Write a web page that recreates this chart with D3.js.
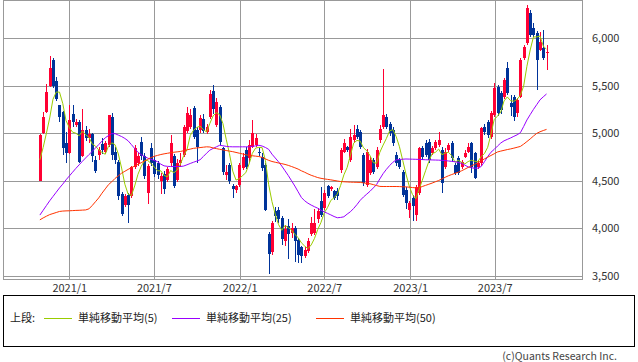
<!DOCTYPE html>
<html><head><meta charset="utf-8">
<script src="https://cdn.jsdelivr.net/npm/d3@7/dist/d3.min.js"></script>
<style>
body{margin:0;background:#fff;}
svg text{font-family:"Noto Sans CJK JP","Noto Sans",sans-serif;}
</style></head>
<body><svg id="c" width="638" height="362"></svg>
<script>
const startWeek = "2020-10-30";
const open = [4500,4997,5222,5500,5770,5552,5292,5222,4893,4789,5205,5090,5118,4761,5030,4950,4990,4720,4770,4890,4806,4876,5170,4806,4702,4360,4250,4350,4340,4640,4690,4910,4760,4375,4840,4720,4690,4500,4570,4510,4690,4760,4510,4690,4770,5020,5070,5260,5030,5035,5150,5014,5170,5448,5083,5274,4840,4563,4667,4448,4407,4459,4632,4823,4736,4858,4875,4800,4754,4667,3938,3747,4180,4198,4112,3869,4025,3950,4000,3880,3800,3713,3765,3938,3955,4094,4285,4216,4441,4410,4389,4390,4615,4806,4858,4719,4927,5049,5014,4771,4459,4580,4719,4650,4927,5066,5170,5100,5031,4771,4719,4597,4407,4198,4320,4146,4372,4840,4899,4910,4788,4840,4875,4823,4650,4823,4892,4667,4736,4649,4754,4807,4894,4789,4649,4684,5069,5122,4964,5192,5489,5419,5384,5682,5314,5384,5209,5384,5787,5944,6259,6102,6049,5874,5892,5839];
const high = [4990,5222,5517,5812,5790,5587,5300,5230,5014,5300,5292,5150,5140,5257,5080,5040,5000,4760,4850,4950,4920,5188,5210,4850,4720,4380,4360,4370,4660,4880,4790,4960,4790,4680,4900,4760,4710,4580,4600,4650,4980,4780,4730,4790,5090,5280,5250,5290,5060,5190,5200,5100,5455,5510,5370,5300,4860,4667,4690,4470,4460,4690,4790,4860,4930,5140,4990,4840,4790,4690,3960,4080,4230,4230,4130,4040,4100,4060,4030,3900,3820,3800,3900,4120,4200,4216,4440,4400,4460,4450,4400,4420,4840,4935,4870,5049,5083,5083,5030,4790,4830,4750,4740,4850,5083,5674,5200,5120,5060,4800,4740,4610,4430,4290,4350,4460,4860,4870,4930,4940,4870,4930,5014,4860,4840,4900,4920,4690,4760,4720,4820,4894,4910,4800,4720,5070,5100,5139,5230,5524,5510,5440,5580,5752,5400,5400,5370,5790,5930,6347,6290,6154,6070,6067,6084,5927];
const low = [4495,4990,5210,5490,5470,5340,5118,4772,4685,4780,5066,5070,4690,4750,4920,4900,4700,4580,4720,4780,4780,4860,4720,4680,4300,4130,4230,4060,4320,4620,4660,4720,4520,4254,4660,4540,4520,4360,4360,4490,4660,4420,4490,4650,4750,5000,5040,4940,4690,5000,5000,4990,5150,5200,5060,4875,4560,4511,4470,4320,4370,4440,4610,4620,4700,4840,4850,4760,4600,4180,3522,3720,4070,4060,3830,3820,3680,3900,3650,3640,3640,3690,3740,3920,3930,4060,4120,4190,4320,4390,4300,4300,4580,4790,4800,4700,4900,4940,4830,4450,4440,4560,4570,4620,4900,5040,5040,4970,4870,4660,4620,4330,4200,4110,4080,4080,4350,4720,4750,4690,4770,4820,4850,4370,4620,4800,4700,4560,4560,4620,4740,4790,4579,4520,4620,4660,4980,4947,4940,5170,5180,5200,5360,5400,5180,5130,5170,5370,5770,5930,6010,6010,5454,5860,5770,5664];
const close = [4980,5170,5438,5690,5500,5361,5170,4841,4789,5136,5118,5118,4702,5032,4950,4990,4760,4600,4820,4820,4893,5188,4772,4720,4338,4150,4340,4250,4650,4840,4760,4760,4550,4653,4690,4570,4560,4550,4410,4620,4900,4445,4690,4720,5070,5210,5190,4965,4860,5156,5020,5066,5413,5257,5326,4910,4597,4597,4493,4414,4441,4667,4754,4650,4875,4997,4945,4790,4632,4198,3730,4060,4130,4094,3886,3990,3940,4000,3870,3720,3713,3770,3869,4060,4060,4181,4146,4372,4337,4435,4320,4340,4823,4892,4823,4962,4979,4962,4858,4476,4806,4719,4597,4823,5049,5187,5066,4997,4892,4684,4650,4355,4268,4268,4233,4434,4840,4754,4771,4719,4840,4910,4927,4476,4806,4875,4736,4580,4580,4702,4789,4859,4649,4527,4684,5052,5017,4982,5209,5472,5209,5244,5559,5419,5279,5174,5349,5769,5909,6312,6032,6032,5769,5962,5787,5857];
const ma5 = [4720,4850,5000,5160,5356,5432,5432,5312,5132,5059,5011,5000,4973,5021,4984,4958,4887,4866,4824,4798,4779,4864,4899,4879,4782,4634,4464,4360,4346,4446,4568,4652,4712,4713,4683,4645,4605,4605,4556,4542,4608,4585,4613,4675,4765,4827,4976,5031,5059,5076,5038,5013,5103,5182,5216,5194,5101,4937,4785,4602,4508,4522,4554,4585,4677,4789,4844,4851,4848,4712,4459,4282,4150,4042,3980,4032,4008,3982,3937,3904,3849,3815,3788,3826,3894,3988,4063,4164,4219,4294,4322,4361,4451,4562,4640,4768,4896,4924,4917,4847,4816,4764,4691,4684,4799,4875,4944,5024,5038,4965,4858,4716,4570,4445,4355,4312,4409,4506,4606,4704,4785,4799,4833,4774,4792,4799,4764,4695,4715,4695,4677,4702,4716,4705,4702,4754,4786,4852,4989,5146,5178,5223,5339,5381,5342,5335,5356,5398,5496,5703,5874,6011,6011,6021,5916,5881];
const ma25 = [4140,4190,4240,4290,4335,4380,4425,4465,4510,4550,4590,4630,4667,4705,4740,4775,4808,4845,4880,4917,4952,4975,4995,4995,4980,4965,4945,4920,4880,4840,4800,4775,4755,4738,4725,4715,4700,4675,4657,4652,4650,4650,4650,4650,4655,4668,4682,4695,4707,4721,4755,4790,4822,4840,4857,4873,4868,4862,4858,4857,4857,4857,4857,4857,4857,4861,4867,4873,4865,4850,4830,4780,4740,4700,4655,4605,4555,4500,4445,4385,4325,4290,4265,4245,4228,4212,4192,4173,4158,4142,4125,4112,4115,4122,4150,4175,4210,4250,4295,4330,4360,4390,4425,4460,4520,4575,4620,4660,4695,4720,4724,4727,4729,4728,4727,4726,4725,4723,4721,4720,4719,4718,4717,4715,4712,4708,4704,4700,4692,4684,4665,4646,4637,4632,4633,4650,4700,4754,4800,4830,4865,4897,4920,4935,4950,4967,4983,5005,5070,5139,5195,5250,5300,5350,5382,5412];
const ma50 = [4090,4110,4128,4145,4156,4167,4178,4182,4184,4185,4187,4189,4190,4192,4194,4205,4240,4280,4320,4370,4415,4460,4490,4525,4553,4580,4600,4620,4638,4655,4673,4690,4708,4726,4744,4757,4767,4776,4783,4789,4795,4800,4804,4808,4816,4825,4833,4841,4845,4849,4853,4857,4855,4845,4838,4831,4825,4818,4812,4806,4798,4790,4782,4773,4767,4763,4759,4755,4745,4730,4715,4703,4695,4687,4680,4672,4662,4650,4637,4623,4605,4590,4573,4558,4546,4534,4526,4520,4515,4510,4504,4498,4492,4490,4488,4486,4485,4484,4483,4478,4473,4469,4460,4450,4441,4440,4440,4440,4440,4440,4439,4437,4436,4433,4429,4426,4426,4440,4452,4464,4476,4490,4503,4520,4537,4553,4566,4578,4590,4605,4622,4640,4656,4673,4690,4710,4730,4748,4766,4784,4803,4812,4820,4828,4835,4843,4852,4861,4885,4912,4940,4970,4998,5015,5028,5040];
const yTicks = [3500,4000,4500,5000,5500,6000];
const xTickDates = ["2021-01-01","2021-07-01","2022-01-01","2022-07-01","2023-01-01","2023-07-01"];
const xTickLabels = ["2021/1","2021/7","2022/1","2022/7","2023/1","2023/7"];
const legendLabels = ["単純移動平均(5)","単純移動平均(25)","単純移動平均(50)"];
const legendTitle = "上段:";
const credit = "(c)Quants Research Inc.";

const parse = d3.utcParse("%Y-%m-%d");
const start = parse(startWeek);
const dates = close.map((_, i) => d3.utcWeek.offset(start, i));
const tickDates = xTickDates.map(parse);

const svg = d3.select("#c");
const L = 3.5, R = 582.5, T = 0.5, B = 279.5;
const x = d3.scaleUtc().domain([tickDates[0], tickDates[5]]).range([69.3, 494.7]);
const y = d3.scaleLinear().domain([3500, 6000]).range([276, 38]);
const crisp = v => Math.round(v) + 0.5;

// grid
const g = svg.append("g");
g.selectAll(".hg").data(yTicks).join("line")
  .attr("x1", L).attr("x2", R).attr("y1", d => crisp(y(d))).attr("y2", d => crisp(y(d)))
  .attr("stroke", "#999").attr("stroke-width", 1);
g.selectAll(".vg").data(tickDates).join("line")
  .attr("x1", d => crisp(x(d))).attr("x2", d => crisp(x(d))).attr("y1", T).attr("y2", B)
  .attr("stroke", "#999").attr("stroke-width", 1);
g.append("rect").attr("x", L).attr("y", T).attr("width", R - L).attr("height", B - T)
  .attr("fill", "none").attr("stroke", "#999").attr("stroke-width", 1);

// candles
const data = close.map((c, i) => ({d: dates[i], o: open[i], h: high[i], l: low[i], c: c}));
const cg = svg.append("g").attr("shape-rendering", "crispEdges");
const col = d => d.c >= d.o ? "#ff0033" : "#003399";
cg.selectAll(".w").data(data).join("line")
  .attr("x1", d => crisp(x(d.d))).attr("x2", d => crisp(x(d.d)))
  .attr("y1", d => y(d.h)).attr("y2", d => y(d.l))
  .attr("stroke", col).attr("stroke-width", 1);
cg.selectAll(".b").data(data).join("rect")
  .attr("x", d => Math.round(x(d.d)) - 1).attr("width", 3)
  .attr("y", d => y(Math.max(d.o, d.c)))
  .attr("height", d => Math.max(1, Math.abs(y(d.o) - y(d.c))))
  .attr("fill", col);

// moving averages
const maColors = ["#99cc00", "#9900ff", "#ff3300"];
[ma5, ma25, ma50].forEach((arr, k) => {
  const line = d3.line().x((v, i) => x(dates[i])).y(v => y(v));
  svg.append("path").datum(arr).attr("d", line).attr("fill", "none")
    .attr("stroke", maColors[k]).attr("stroke-width", 1);
});

// axes
const ya = svg.append("g").attr("transform", `translate(${R - 0.5},0)`)
  .call(d3.axisRight(y).tickValues(yTicks).tickSize(0).tickPadding(10).tickFormat(d3.format(",")));
ya.select(".domain").remove();
ya.selectAll("text").attr("font-size", 11).attr("fill", "#333")
  .style("font-family", '"Noto Sans CJK JP", sans-serif');

const xa = svg.append("g").attr("transform", `translate(0,${B})`)
  .call(d3.axisBottom(x).tickValues(tickDates).tickSize(0).tickPadding(5)
    .tickFormat((d, i) => xTickLabels[i]));
xa.select(".domain").remove();
xa.selectAll("text").attr("font-size", 11).attr("fill", "#333")
  .style("font-family", '"Noto Sans CJK JP", sans-serif');

// legend
svg.append("rect").attr("x", 3.5).attr("y", 295.5).attr("width", 631).attr("height", 51)
  .attr("fill", "none").attr("stroke", "#000").attr("stroke-width", 1);
svg.append("text").attr("x", 10).attr("y", 322).attr("font-size", 11).attr("fill", "#222").text(legendTitle);
const lx = [44, 172, 316];
legendLabels.forEach((t, k) => {
  svg.append("line").attr("x1", lx[k]).attr("x2", lx[k] + 28).attr("y1", 318.5).attr("y2", 318.5)
    .attr("stroke", maColors[k]).attr("stroke-width", 1);
  svg.append("text").attr("x", lx[k] + 34).attr("y", 322).attr("font-size", 11).attr("fill", "#222").text(t);
});
svg.append("text").attr("x", 617).attr("y", 360).attr("text-anchor", "end")
  .attr("font-size", 10.5).attr("fill", "#444").text(credit);
</script></body></html>
